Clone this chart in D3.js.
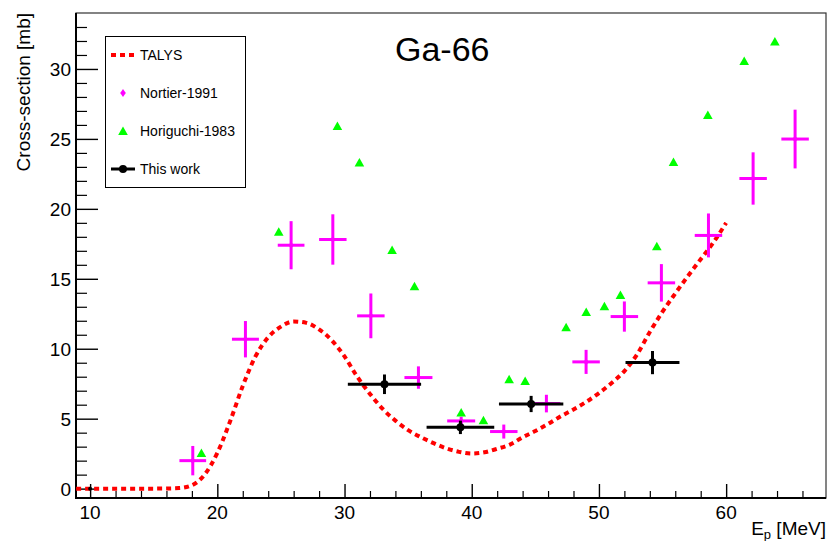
<!DOCTYPE html>
<html>
<head>
<meta charset="utf-8">
<script src="https://cdn.jsdelivr.net/npm/d3@7"></script>
<style>
  html, body { margin: 0; padding: 0; background: #fff; }
  svg { display: block; font-family: "Liberation Sans", Arial, Helvetica, sans-serif; }
</style>
</head>
<body>
<svg id="chart" width="827" height="541"></svg>
<script>
// TALYS calculation (MeV, mb)
const talysE = [8.9, 10, 11, 12, 13, 14, 15, 16, 17, 18, 19, 20, 21, 22, 23, 24, 25, 26, 27, 28, 29,
  30, 31, 32, 33, 34, 35, 36, 37, 38, 39, 40, 41, 42, 43, 44, 45, 46, 47, 48, 49, 50,
  51, 52, 53, 54, 55, 56, 57, 58, 59, 60];
const talysXS = [0, 0, 0, 0, 0, 0, 0, 0.01, 0.04, 0.24, 1.0, 2.55, 4.8, 7.34, 9.45, 10.82, 11.58, 11.95, 11.85, 11.38, 10.6,
  9.45, 8.0, 6.77, 5.7, 4.86, 4.18, 3.68, 3.25, 2.88, 2.63, 2.51, 2.6, 2.85, 3.15, 3.67, 4.12,
  4.62, 5.17, 5.66, 6.2, 6.83, 7.55, 8.4, 9.6, 11.2, 12.65, 13.95, 15.2, 16.4, 17.6, 19.0];

// Nortier-1991
const nortierE = [18.07, 22.21, 25.8, 29.08, 32.07, 35.81, 39.17, 42.52, 45.87, 48.99, 52.0, 54.91, 58.61, 62.12, 65.42];
const nortierXS = [2.0, 10.68, 17.4, 17.81, 12.35, 7.94, 4.84, 4.08, 6.08, 9.06, 12.3, 14.71, 18.1, 22.17, 24.99];
const nortierDE = [1.05, 1.06, 1.05, 1.08, 1.08, 1.1, 1.1, 1.08, 1.1, 1.08, 1.08, 1.08, 1.08, 1.08, 1.08];
const nortierDXS = [1.05, 1.3, 1.72, 1.8, 1.6, 0.8, 0.3, 0.5, 0.63, 0.86, 1.08, 1.34, 1.57, 1.87, 2.1];

// Horiguchi-1983
const horiE = [18.75, 24.83, 29.44, 31.17, 33.74, 35.5, 39.17, 40.92, 42.94, 44.2, 47.42, 49.0, 50.43, 51.69,
  54.55, 55.86, 58.56, 61.42, 63.83];
const horiXS = [2.55, 18.36, 25.92, 23.32, 17.05, 14.47, 5.44, 4.89, 7.82, 7.7, 11.54, 12.63, 13.04, 13.85,
  17.33, 23.34, 26.7, 30.57, 31.97];

// This work
const workE = [33.14, 39.11, 44.67, 54.21];
const workXS = [7.46, 4.38, 6.05, 9.01];
const workDE = [2.88, 2.66, 2.53, 2.12];
const workDXS = [0.7, 0.48, 0.58, 0.83];

// extra marker sitting on the frame
const originE = [10];
const originXS = [0];

const xTicks = [10, 20, 30, 40, 50, 60];
const yTicks = [0, 5, 10, 15, 20, 25, 30];
const legendLabels = ["TALYS", "Nortier-1991", "Horiguchi-1983", "This work"];

const frame = { left: 76, right: 826, top: 13, bottom: 498 };

const svg = d3.select("#chart");

const x = d3.scaleLinear().domain([8.89, 67.85]).range([frame.left, frame.right]);
const y = d3.scaleLinear().domain([-0.67, 34.0]).range([frame.bottom, frame.top]);

const plot = svg.append("g");

// frame
plot.append("rect")
  .attr("x", frame.left).attr("y", frame.top)
  .attr("width", frame.right - frame.left).attr("height", frame.bottom - frame.top)
  .attr("fill", "none").attr("stroke", "#333").attr("stroke-width", 1.2);

// y axis: ticks inside
const yAxis = d3.axisRight(y).tickValues(yTicks).tickSize(22).tickFormat("");
const yMinor = d3.axisRight(y).tickValues(d3.range(1, 34).filter(v => v % 5 !== 0)).tickSize(11).tickFormat("");
svg.append("g").attr("transform", `translate(${frame.left},0)`).call(yMinor)
  .call(g => g.select(".domain").remove())
  .selectAll("line").attr("stroke", "#000").attr("stroke-width", 1.2);
svg.append("g").attr("transform", `translate(${frame.left},0)`).call(yAxis)
  .call(g => g.select(".domain").remove())
  .selectAll("line").attr("stroke", "#000").attr("stroke-width", 1.4);

svg.append("g").selectAll("text").data(yTicks).enter().append("text")
  .attr("x", frame.left - 5)
  .attr("y", d => y(d) + 7)
  .attr("text-anchor", "end")
  .attr("font-size", 19)
  .text(d => d);

// x axis: ticks inside
const xAxis = d3.axisTop(x).tickValues(xTicks).tickSize(14).tickFormat("");
const xMinor = d3.axisTop(x).tickValues(d3.range(12, 68, 2).filter(v => v % 10 !== 0)).tickSize(7).tickFormat("");
svg.append("g").attr("transform", `translate(0,${frame.bottom})`).call(xMinor)
  .call(g => g.select(".domain").remove())
  .selectAll("line").attr("stroke", "#000").attr("stroke-width", 1.2);
svg.append("g").attr("transform", `translate(0,${frame.bottom})`).call(xAxis)
  .call(g => g.select(".domain").remove())
  .selectAll("line").attr("stroke", "#000").attr("stroke-width", 1.4);

svg.append("g").selectAll("text").data(xTicks).enter().append("text")
  .attr("x", d => x(d))
  .attr("y", 518.5)
  .attr("text-anchor", "middle")
  .attr("font-size", 19)
  .text(d => d);

// axis lines (left and bottom heavier)
svg.append("line").attr("x1", frame.left).attr("x2", frame.left)
  .attr("y1", frame.top).attr("y2", frame.bottom + 1)
  .attr("stroke", "#000").attr("stroke-width", 2);
svg.append("line").attr("x1", frame.left - 1).attr("x2", frame.right)
  .attr("y1", frame.bottom).attr("y2", frame.bottom)
  .attr("stroke", "#000").attr("stroke-width", 2);

// axis titles
svg.append("text")
  .attr("transform", "translate(30,13) rotate(-90)")
  .attr("text-anchor", "end")
  .attr("font-size", 19)
  .text("Cross-section [mb]");

const xTitle = svg.append("text")
  .attr("x", frame.right)
  .attr("y", 535)
  .attr("text-anchor", "end")
  .attr("font-size", 19);
xTitle.append("tspan").text("E");
xTitle.append("tspan").attr("font-size", 13).attr("dy", 4).text("p");
xTitle.append("tspan").attr("dy", -4).text(" [MeV]");

// title
svg.append("text")
  .attr("x", 395)
  .attr("y", 61)
  .attr("font-size", 34)
  .text("Ga-66");

// clip to frame
svg.append("clipPath").attr("id", "clip")
  .append("rect")
  .attr("x", frame.left).attr("y", frame.top)
  .attr("width", frame.right - frame.left).attr("height", frame.bottom - frame.top);

const marks = svg.append("g").attr("clip-path", "url(#clip)");

// TALYS
const talys = talysE.map((e, i) => ({ e, xs: talysXS[i] }));
marks.append("path")
  .datum(talys)
  .attr("fill", "none")
  .attr("stroke", "#ff0000")
  .attr("stroke-width", 4)
  .attr("stroke-dasharray", "5,4")
  .attr("d", d3.line().x(d => x(d.e)).y(d => y(d.xs)).curve(d3.curveMonotoneX));

// Nortier
const nortier = nortierE.map((e, i) => ({ e, xs: nortierXS[i], de: nortierDE[i], dxs: nortierDXS[i] }));
const nortierG = marks.append("g").selectAll("g").data(nortier).enter().append("g");
nortierG.append("line")
  .attr("x1", d => x(d.e - d.de)).attr("x2", d => x(d.e + d.de))
  .attr("y1", d => y(d.xs)).attr("y2", d => y(d.xs))
  .attr("stroke", "#ff00ff").attr("stroke-width", 3);
nortierG.append("line")
  .attr("x1", d => x(d.e)).attr("x2", d => x(d.e))
  .attr("y1", d => y(d.xs - d.dxs)).attr("y2", d => y(d.xs + d.dxs))
  .attr("stroke", "#ff00ff").attr("stroke-width", 3);
nortierG.append("path")
  .attr("transform", d => `translate(${x(d.e)},${y(d.xs)})`)
  .attr("d", "M0,-3.5L2.5,0L0,3.5L-2.5,0Z")
  .attr("fill", "#ff00ff");

// Horiguchi
const hori = horiE.map((e, i) => ({ e, xs: horiXS[i] }));
marks.append("g").selectAll("path").data(hori).enter().append("path")
  .attr("transform", d => `translate(${x(d.e)},${y(d.xs)})`)
  .attr("d", "M0,-4.5L4.8,4L-4.8,4Z")
  .attr("fill", "#00ff00");

// This work
const work = workE.map((e, i) => ({ e, xs: workXS[i], de: workDE[i], dxs: workDXS[i] }));
const workG = marks.append("g").selectAll("g").data(work).enter().append("g");
workG.append("line")
  .attr("x1", d => x(d.e - d.de)).attr("x2", d => x(d.e + d.de))
  .attr("y1", d => y(d.xs)).attr("y2", d => y(d.xs))
  .attr("stroke", "#000").attr("stroke-width", 3);
workG.append("line")
  .attr("x1", d => x(d.e)).attr("x2", d => x(d.e))
  .attr("y1", d => y(d.xs - d.dxs)).attr("y2", d => y(d.xs + d.dxs))
  .attr("stroke", "#000").attr("stroke-width", 3);
workG.append("circle")
  .attr("cx", d => x(d.e)).attr("cy", d => y(d.xs))
  .attr("r", 4)
  .attr("fill", "#000");

marks.append("g").selectAll("circle").data(originE).enter().append("circle")
  .attr("cx", d => x(d)).attr("cy", (d, i) => y(originXS[i]))
  .attr("r", 2).attr("fill", "#000");

// legend
const legend = svg.append("g");
legend.append("rect")
  .attr("x", 105.5).attr("y", 36.5)
  .attr("width", 140).attr("height", 151)
  .attr("fill", "#fff").attr("stroke", "#000").attr("stroke-width", 1);

const rowY = [55, 93, 131, 169];
legend.selectAll("text").data(legendLabels).enter().append("text")
  .attr("x", 140)
  .attr("y", (d, i) => rowY[i] + 5)
  .attr("font-size", 14)
  .text(d => d);

legend.append("line")
  .attr("x1", 111).attr("x2", 136).attr("y1", rowY[0]).attr("y2", rowY[0])
  .attr("stroke", "#ff0000").attr("stroke-width", 4).attr("stroke-dasharray", "5,4");
legend.append("path")
  .attr("transform", `translate(123,${rowY[1]})`)
  .attr("d", "M0,-4L2.8,0L0,4L-2.8,0Z")
  .attr("fill", "#ff00ff");
legend.append("path")
  .attr("transform", `translate(123,${rowY[2]})`)
  .attr("d", "M0,-4.5L4.8,4L-4.8,4Z")
  .attr("fill", "#00ff00");
legend.append("line")
  .attr("x1", 111).attr("x2", 135).attr("y1", rowY[3]).attr("y2", rowY[3])
  .attr("stroke", "#000").attr("stroke-width", 3);
legend.append("circle")
  .attr("cx", 123).attr("cy", rowY[3]).attr("r", 4).attr("fill", "#000");
</script>
</body>
</html>
